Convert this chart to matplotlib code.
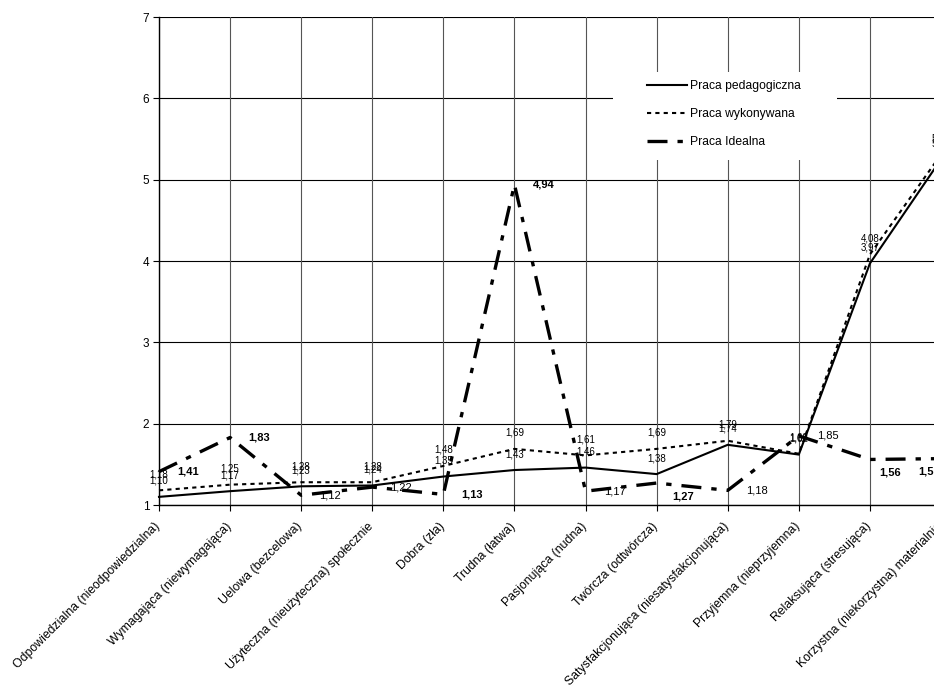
import matplotlib
matplotlib.use("Agg")
import matplotlib.pyplot as plt
from matplotlib.patches import Rectangle
from matplotlib.transforms import ScaledTranslation

plt.rcParams['font.family'] = ['Liberation Sans', 'DejaVu Sans']

categories = [
    "Odpowiedzialna (nieodpowiedzialna)",
    "Wymagająca (niewymagająca)",
    "Uelowa (bezcelowa)",
    "Użyteczna (nieużyteczna) społecznie",
    "Dobra (zła)",
    "Trudna (łatwa)",
    "Pasjonująca (nudna)",
    "Twórcza (odtwórcza)",
    "Satysfakcjonująca (niesatysfakcjonująca)",
    "Przyjemna (nieprzyjemna)",
    "Relaksująca (stresująca)",
    "Korzystna (niekorzystna) materialnie",
]
pedagogiczna = [1.10, 1.17, 1.23, 1.24, 1.35, 1.43, 1.46, 1.38, 1.74, 1.62, 3.97, 5.25]
wykonywana = [1.18, 1.25, 1.28, 1.28, 1.48, 1.69, 1.61, 1.69, 1.79, 1.63, 4.08, 5.31]
idealna = [1.41, 1.83, 1.12, 1.22, 1.13, 4.94, 1.17, 1.27, 1.18, 1.85, 1.56, 1.57]
idealna_bold = [True, True, False, False, True, True, False, True, False, False, True, True]
series_names = ["Praca pedagogiczna", "Praca wykonywana", "Praca Idealna"]
yticks = [1, 2, 3, 4, 5, 6, 7]

W, H = 934, 686
fig = plt.figure(figsize=(W / 100, H / 100), dpi=100)
left_px, right_px, top_px, bot_px = 159, 941, 17, 505
ax = fig.add_axes([left_px / W, 1 - bot_px / H, (right_px - left_px) / W, (bot_px - top_px) / H])

x = list(range(len(categories)))
ax.set_xlim(0, len(categories) - 1)
ax.set_ylim(1, 7)

# grid
for yv in yticks:
    ax.axhline(yv, color='black', lw=0.8, zorder=1)
for xv in x:
    ax.axvline(xv, color='#555555', lw=0.8, zorder=1)

for s in ['top', 'right']:
    ax.spines[s].set_visible(False)
ax.spines['left'].set_linewidth(1.0)
ax.spines['bottom'].set_linewidth(1.0)

# white legend background hiding the grid
ax.add_patch(Rectangle((613 / W, 1 - 160 / H), (837 - 613) / W, (160 - 72) / H,
                       transform=fig.transFigure, facecolor='white', edgecolor='none',
                       zorder=2, clip_on=False))

l1, = ax.plot(x, pedagogiczna, color='black', lw=1.5, solid_joinstyle='miter', zorder=3, clip_on=False)
l2, = ax.plot(x, wykonywana, color='black', lw=1.5, linestyle=(0, (2, 2)), zorder=3, clip_on=False)
l3, = ax.plot(x, idealna, color='black', lw=2.4, linestyle=(0, (6, 3, 1.6, 3)), zorder=3, clip_on=False)

def fmt(v):
    return f"{v:.2f}".replace('.', ',')

for xi, v in zip(x, pedagogiczna):
    ax.annotate(fmt(v), (xi, v), xytext=(0, 11.5), textcoords='offset points',
                ha='center', va='center', fontsize=7, zorder=4, annotation_clip=False)
for xi, v in zip(x, wykonywana):
    ax.annotate(fmt(v), (xi, v), xytext=(0, 11.5), textcoords='offset points',
                ha='center', va='center', fontsize=7, zorder=4, annotation_clip=False)

idealna_offsets = {7: (11, -9.5), 10: (7, -9.5), 11: (-16.5, -9.5)}
for xi, v, b in zip(x, idealna, idealna_bold):
    off = idealna_offsets.get(xi, (13, 0))
    ax.annotate(fmt(v), (xi, v), xytext=off, textcoords='offset points',
                ha='left', va='center', fontsize=8, fontweight='bold' if b else 'normal',
                zorder=4, annotation_clip=False)

ax.set_yticks(yticks)
ax.set_yticklabels([str(t) for t in yticks], fontsize=8.5)
ax.set_xticks(x)
ax.set_xticklabels(categories, rotation=45, ha='right', va='top', rotation_mode='anchor', fontsize=8.8)
ax.tick_params(axis='both', direction='out', length=4, width=0.8, color='black', pad=3)
ax.tick_params(axis='x', pad=7)
shift = ScaledTranslation(-5 / 100, 0, fig.dpi_scale_trans)
for lbl in ax.get_xticklabels():
    lbl.set_transform(lbl.get_transform() + shift)

leg = fig.legend([l1, l2, l3], series_names, loc='upper left',
                 bbox_to_anchor=(647 / W, 1 - 80 / H), frameon=False, fontsize=8.7,
                 handlelength=3.3, handletextpad=0.25, labelspacing=1.32,
                 borderpad=0, borderaxespad=0)
leg.set_zorder(5)

fig.savefig('out.png', dpi=100)
